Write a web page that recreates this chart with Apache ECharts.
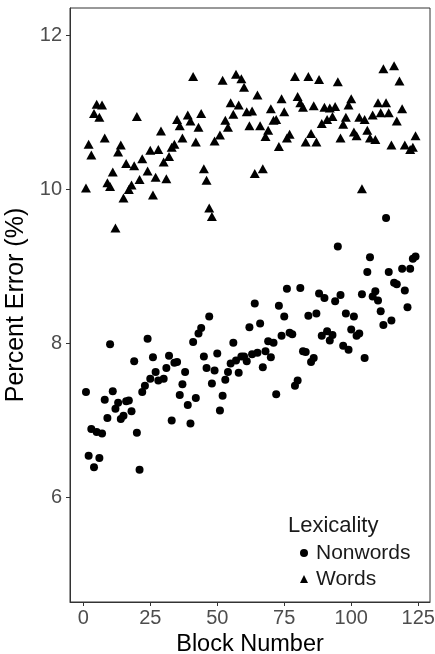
<!DOCTYPE html>
<html>
<head>
<meta charset="utf-8">
<script src="https://cdn.jsdelivr.net/npm/echarts@6/dist/echarts.min.js"></script>
<style>
  html, body { margin: 0; padding: 0; background: #fff; }
  #chart { width: 435px; height: 654px; }
</style>
</head>
<body>
<div id="chart"></div>
<script>
// values
const nonwordsBlock = [1,2,3,4,5,6,7,8,9,10,11,12,13,14,15,16,17,18,19,20,21,22,23,24,25,26,27,28,30,31,32,33,34,35,36,37,38,39,40,41,42,43,44,45,46,47,48,49,50,51,52,53,54,55,56,57,58,59,60,61,62,63,64,65,66,67,68,69,70,71,72,73,74,75,76,77,78,79,80,81,82,83,84,85,86,87,88,89,90,91,92,93,94,95,96,97,98,99,100,101,102,103,104,105,106,107,108,109,110,111,112,113,114,115,116,117,119,120,121,122,123,124];
const nonwordsError = [7.37,6.54,6.89,6.39,6.85,6.51,6.83,7.27,7.03,7.99,7.38,7.15,7.23,7.02,7.06,7.25,7.26,7.12,7.77,6.84,6.36,7.37,7.45,8.06,7.54,7.82,7.63,7.52,7.54,7.68,7.84,7.00,7.75,7.76,7.33,7.47,7.63,7.20,6.96,8.02,7.29,8.13,8.20,7.83,7.68,8.35,7.48,7.65,7.87,7.13,7.32,7.53,7.63,7.74,8.01,7.78,7.62,7.83,7.83,7.77,8.21,7.86,8.52,7.88,8.26,7.69,7.90,8.03,7.82,8.01,7.34,8.49,8.10,8.35,8.71,8.14,8.12,7.45,7.52,8.72,7.90,7.89,8.36,7.76,7.81,8.39,8.65,8.10,8.59,8.16,8.04,8.11,8.55,9.26,8.63,7.97,8.39,7.92,8.18,8.35,8.10,8.13,8.64,7.81,8.93,9.12,8.61,8.68,8.56,8.42,8.24,9.63,8.93,8.30,8.79,8.77,8.97,8.69,8.47,8.97,9.10,9.13];

const wordsBlock = [1,2,3,4,5,6,7,8,9,10,11,12,13,14,15,16,17,18,19,20,21,22,24,25,26,27,28,29,30,31,32,33,34,35,36,37,39,40,41,42,43,44,45,46,47,48,49,51,52,53,54,55,56,57,58,59,60,61,62,63,64,65,66,67,68,69,70,71,72,73,74,75,76,77,79,80,81,82,83,84,85,86,87,88,89,90,91,92,93,94,95,96,97,98,99,100,101,102,103,104,105,106,107,108,109,110,111,112,113,114,115,116,117,118,119,120,122,123,124];
const wordsError = [10.02,10.59,10.45,10.99,11.11,10.94,11.10,10.67,10.09,10.04,10.23,9.50,10.49,10.58,9.89,10.34,10.00,10.06,10.31,10.95,10.13,10.40,10.24,10.51,9.93,10.16,10.52,10.76,10.36,10.14,10.43,10.55,10.59,10.91,10.83,10.67,10.97,10.89,11.47,10.62,10.81,10.99,10.27,10.12,9.76,9.65,10.63,10.71,11.42,10.90,10.81,11.13,10.98,11.50,11.10,11.44,11.33,11.01,10.83,11.02,10.21,11.23,10.83,10.27,10.69,10.77,11.05,10.90,10.91,10.56,11.18,11.01,10.67,10.72,11.47,11.21,11.13,11.07,10.62,11.47,10.73,11.09,10.62,11.43,10.86,11.07,10.91,11.06,10.95,11.08,11.40,10.67,10.85,10.94,11.10,11.18,10.75,10.70,10.94,10.01,10.91,10.77,10.67,10.97,10.65,11.13,11.00,11.57,11.13,11.00,10.58,11.61,10.89,11.41,11.05,10.58,10.52,10.55,10.70];

const xTicks = [0, 25, 50, 75, 100, 125];
const yTicks = [6, 8, 10, 12];

const font = 'Liberation Sans, Arial, sans-serif';

let chart = echarts.init(document.getElementById('chart'));

const option = {
  backgroundColor: '#fff',
  animation: false,
  // legend title
  title: {
    text: 'Lexicality',
    left: 283,
    top: 510,
    textStyle: { fontFamily: font, fontSize: 22, fontWeight: 'normal', color: '#1a1a1a' }
  },
  legend: {
    orient: 'vertical',
    left: 295,
    top: 537,
    itemWidth: 8,
    itemHeight: 8,
    itemGap: 4,
    data: [
      { name: 'Nonwords', icon: 'circle', itemStyle: { color: '#000' } },
      { name: 'Words', icon: 'triangle', itemStyle: { color: '#000' } }
    ],
    textStyle: { fontFamily: font, fontSize: 21, color: '#1a1a1a', lineHeight: 22, padding: [0, 0, 0, 3] }
  },
  grid: {
    left: 70,
    right: 5,
    top: 8,
    bottom: 52,
    outerBoundsMode: 'none',
    show: true,
    borderColor: '#333',
    borderWidth: 1
  },
  xAxis: {
    type: 'value',
    min: -4.96,
    max: 129.4,
    name: 'Block Number',
    nameLocation: 'middle',
    nameGap: 26,
    nameTextStyle: { fontFamily: font, fontSize: 23.5, color: '#000' },
    splitLine: { show: false },
    axisLine: { show: true, onZero: false, lineStyle: { color: '#333', width: 1 } },
    axisTick: { show: true, inside: false, length: 4, customValues: xTicks, lineStyle: { color: '#333' } },
    axisLabel: { customValues: xTicks, margin: 6, fontFamily: font, fontSize: 20, color: '#4d4d4d' }
  },
  yAxis: {
    type: 'value',
    min: 4.64,
    max: 12.36,
    name: 'Percent Error (%)',
    nameLocation: 'middle',
    nameGap: 37,
    nameTextStyle: { fontFamily: font, fontSize: 25, color: '#000' },
    splitLine: { show: false },
    axisLine: { show: true, onZero: false, lineStyle: { color: '#333', width: 1 } },
    axisTick: { show: true, inside: false, length: 4, customValues: yTicks, lineStyle: { color: '#333' } },
    axisLabel: { customValues: yTicks, margin: 8, fontFamily: font, fontSize: 20, color: '#4d4d4d' }
  },
  series: [
    {
      name: 'Nonwords',
      type: 'scatter',
      symbol: 'circle',
      symbolSize: 8,
      itemStyle: { color: '#000', opacity: 1 },
      data: nonwordsBlock.map((b, i) => [b, nonwordsError[i]])
    },
    {
      name: 'Words',
      type: 'scatter',
      symbol: 'triangle',
      symbolSize: [10, 9],
      itemStyle: { color: '#000', opacity: 1 },
      data: wordsBlock.map((b, i) => [b, wordsError[i]])
    }
  ]
};

chart.setOption(option);
</script>
</body>
</html>
